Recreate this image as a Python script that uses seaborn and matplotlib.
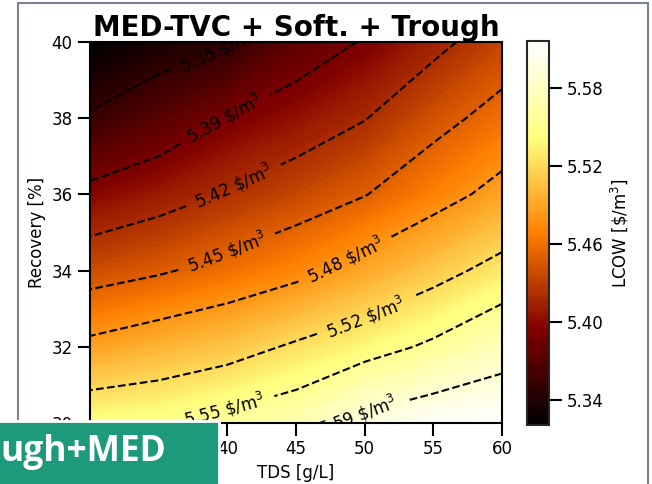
import matplotlib

matplotlib.use("Agg")
import matplotlib.pyplot as plt
import numpy as np
import seaborn as sns
from matplotlib.patches import Rectangle

# grid (TDS in g/L, recovery in %)
tds = [30, 35, 40, 45, 50, 55, 60]
recovery = [30, 32, 34, 36, 38, 40]
# LCOW [$/m3], one row per recovery value, one column per TDS value
lcow = [
    [5.545, 5.548, 5.559, 5.570, 5.599, 5.612, 5.616],
    [5.487, 5.498, 5.508, 5.524, 5.538, 5.555, 5.576],
    [5.438, 5.447, 5.459, 5.472, 5.491, 5.510, 5.530],
    [5.398, 5.409, 5.422, 5.435, 5.449, 5.469, 5.489],
    [5.353, 5.371, 5.391, 5.404, 5.419, 5.441, 5.460],
    [5.321, 5.335, 5.347, 5.375, 5.392, 5.413, 5.434],
]
contour_levels = [5.35, 5.39, 5.42, 5.45, 5.48, 5.52, 5.55, 5.59]
cbar_ticks = [5.34, 5.40, 5.46, 5.52, 5.58]
x_ticks = [30, 35, 40, 45, 50, 55, 60]
y_ticks = [30, 32, 34, 36, 38, 40]

TITLE = "MED-TVC + Soft. + Trough"
BANNER = "ugh+MED"

sns.set_style("ticks")
plt.rcParams["font.family"] = ["DejaVu Sans"]
plt.rcParams.update(
    {
        "text.color": "black",
        "axes.labelcolor": "black",
        "xtick.color": "black",
        "ytick.color": "black",
    }
)

fig = plt.figure(figsize=(6.52, 4.84), dpi=100)
ax = fig.add_axes([0.138, 0.126, 0.632, 0.787])
cax = fig.add_axes([0.808, 0.122, 0.034, 0.793])

X, Y = np.meshgrid(tds, recovery)
Z = np.array(lcow)

cf = ax.contourf(X, Y, Z, levels=np.linspace(Z.min(), Z.max(), 120), cmap="afmhot")
cs = ax.contour(
    X, Y, Z, levels=contour_levels, colors="black", linestyles="--", linewidths=1.5
)
# label spots along each dashed line (layout only)
spots = [
    (39.4, 39.75),
    (39.8, 38.0),
    (40.5, 36.2),
    (40.0, 34.45),
    (48.7, 34.2),
    (50.0, 32.85),
    (39.8, 30.35),
    (49.6, 30.15),
]
labels = ax.clabel(
    cs, fmt=r"%.2f \$/m$^3$", fontsize=12, inline=True, inline_spacing=10, manual=spots
)
for t in labels:
    t.set_clip_on(True)

ax.set_xlim(30, 60)
ax.set_ylim(30, 40)
ax.set_xticks(x_ticks)
ax.set_yticks(y_ticks)
ax.set_xlabel("TDS [g/L]", fontsize=12)
ax.set_ylabel("Recovery [%]", fontsize=12)
ax.set_title(TITLE, fontsize=20, fontweight="bold", pad=3)
ax.tick_params(labelsize=12, length=9, width=1.5)
for s in ax.spines.values():
    s.set_linewidth(1.5)
    s.set_color("black")

cbar = fig.colorbar(cf, cax=cax, ticks=cbar_ticks)
cbar.ax.set_yticklabels([f"{t:.2f}" for t in cbar_ticks])
cbar.set_label(r"LCOW [\$/m$^3$]", fontsize=12)
cbar.ax.tick_params(labelsize=12, length=9, width=1.5)
cbar.outline.set_linewidth(1.5)

# slide frame and the banner sitting over the corner
fig.patches.append(
    Rectangle(
        (18 / 652, -0.1),
        630 / 652,
        1.1 - 3 / 484,
        transform=fig.transFigure,
        fill=False,
        edgecolor="#7a848e",
        linewidth=1.5,
        zorder=0,
    )
)
fig.patches.append(
    Rectangle(
        (-0.01, -0.01),
        219 / 652 + 0.01,
        63 / 484 + 0.01,
        transform=fig.transFigure,
        facecolor="#1d9a7c",
        edgecolor="white",
        linewidth=2,
        zorder=10,
    )
)
fig.text(
    0.0,
    32 / 484,
    BANNER,
    color="white",
    fontsize=25.5,
    fontweight="bold",
    family=["Open Sans", "DejaVu Sans"],
    ha="left",
    va="center",
    zorder=11,
)

fig.savefig("out.png", dpi=100)
